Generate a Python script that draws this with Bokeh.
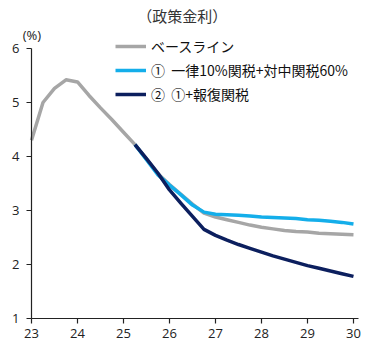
from bokeh.plotting import figure
from bokeh.models import Range1d, Legend, LegendItem, Label, FixedTicker
from bokeh.embed import file_html
from bokeh.resources import INLINE

# Quarterly time axis (labels 23..30)
years = [23.0, 23.25, 23.5, 23.75, 24.0, 24.25, 24.5, 24.75, 25.0, 25.25,
         25.5, 25.75, 26.0, 26.25, 26.5, 26.75, 27.0, 27.25, 27.5, 27.75,
         28.0, 28.25, 28.5, 28.75, 29.0, 29.25, 29.5, 29.75, 30.0]

baseline = [4.30, 5.00, 5.26, 5.42, 5.38, 5.13, 4.90, 4.68, 4.45, 4.22,
            3.95, 3.68, 3.48, 3.30, 3.12, 2.95, 2.88, 2.83, 2.78, 2.73,
            2.69, 2.66, 2.63, 2.61, 2.60, 2.58, 2.57, 2.56, 2.55]

sc_years = years[9:]
scenario1 = [4.22, 3.94, 3.66, 3.47, 3.29, 3.10, 2.97, 2.93, 2.92, 2.91,
             2.90, 2.88, 2.87, 2.86, 2.85, 2.83, 2.82, 2.80, 2.78, 2.75]
scenario2 = [4.22, 3.96, 3.69, 3.38, 3.13, 2.89, 2.65, 2.54, 2.45, 2.37,
             2.30, 2.23, 2.16, 2.10, 2.04, 1.98, 1.93, 1.88, 1.83, 1.78]

x_ticks = [23, 24, 25, 26, 27, 28, 29, 30]
y_ticks = [1, 2, 3, 4, 5, 6]

series_names = ["ベースライン", "①  一律10%関税+対中関税60%", "②  ①+報復関税"]
title_text = "（政策金利）"
unit_text = "(%)"

GRAY = "#A6A6A6"
LBLUE = "#14AEEA"
NAVY = "#0C1F5E"
JP = "Noto Sans CJK JP"

p = figure(width=370, height=349, output_backend="svg", toolbar_location=None,
           x_range=Range1d(22.326, 30.37), y_range=Range1d(0.426, 6.889),
           min_border_left=0, min_border_right=0, min_border_top=0,
           min_border_bottom=0)
p.outline_line_color = None
p.grid.visible = False
p.background_fill_color = "white"
p.border_fill_color = "white"

r0 = p.line(years, baseline, line_color=GRAY, line_width=3.5, line_join="round")
r1 = p.line(sc_years, scenario1, line_color=LBLUE, line_width=3.5, line_join="round")
r2 = p.line(sc_years, scenario2, line_color=NAVY, line_width=3.5, line_join="round")

for ax in (p.xaxis[0], p.yaxis[0]):
    ax.axis_line_color = "#222222"
    ax.axis_line_width = 1.2
    ax.major_tick_line_color = "#222222"
    ax.major_tick_line_width = 1.2
    ax.major_tick_out = 5
    ax.major_tick_in = 0
    ax.minor_tick_line_color = None
    ax.major_label_text_font = "Open Sans"
    ax.major_label_text_font_size = "13px"
    ax.major_label_text_color = "#222222"

p.xaxis.fixed_location = 1
p.yaxis.fixed_location = 23
p.xaxis.bounds = (23, 30.1)
p.yaxis.bounds = (1, 6)
p.xaxis.ticker = FixedTicker(ticks=x_ticks)
p.yaxis.ticker = FixedTicker(ticks=y_ticks)
p.xaxis.major_label_standoff = 5
p.yaxis.major_label_standoff = 7

legend = Legend(items=[LegendItem(label=series_names[0], renderers=[r0]),
                       LegendItem(label=series_names[1], renderers=[r1]),
                       LegendItem(label=series_names[2], renderers=[r2])],
                location=(115, 245), orientation="vertical",
                border_line_color=None, background_fill_alpha=0,
                padding=0, margin=0, spacing=4,
                glyph_width=31, glyph_height=20, label_height=20,
                label_standoff=5,
                label_text_font=JP, label_text_font_size="14px",
                label_text_color="#111111")
p.add_layout(legend, "center")

p.add_layout(Label(x=26.28, y=6.61, text=title_text, text_align="center",
                   text_baseline="middle", text_font=JP,
                   text_font_size="15px", text_color="#333333"))
p.add_layout(Label(x=23.01, y=6.25, text=unit_text, text_align="center",
                   text_baseline="middle", text_font="Open Sans",
                   text_font_size="13px", text_color="#222222"))

open("out.html", "w").write(file_html(p, INLINE))
